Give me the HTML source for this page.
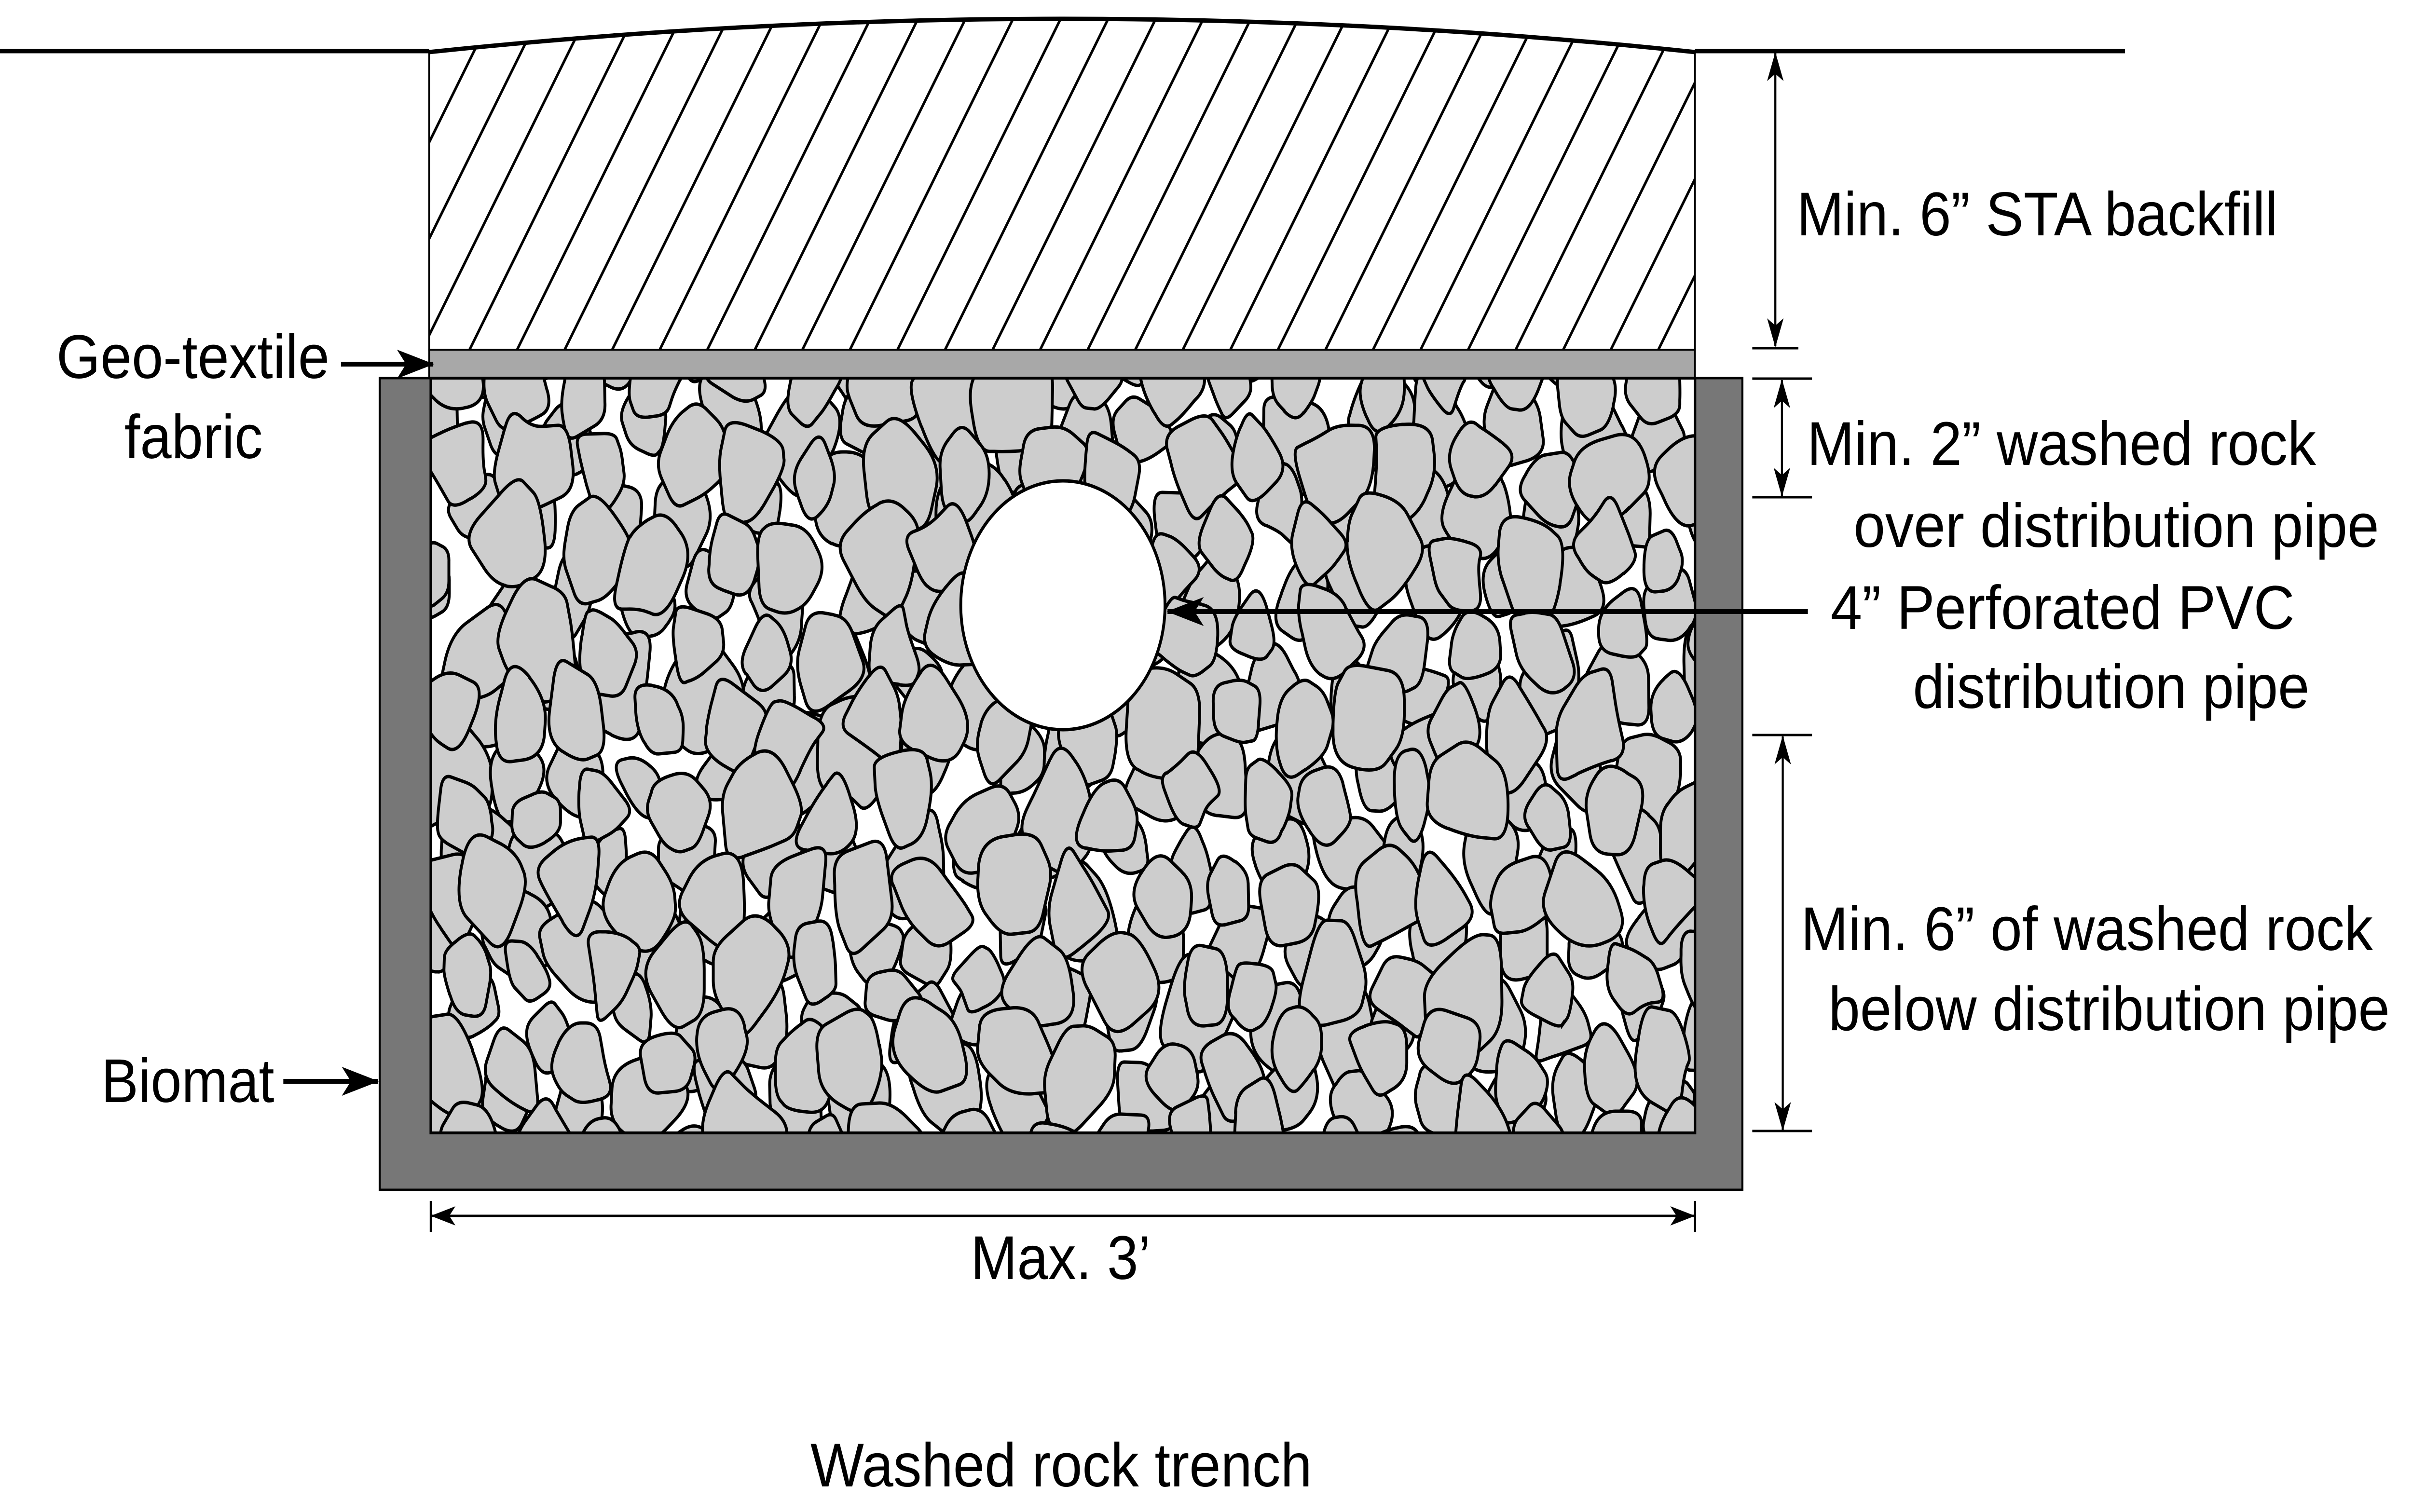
<!DOCTYPE html>
<html><head><meta charset="utf-8"><style>
html,body{margin:0;padding:0;background:#fff;overflow:hidden;width:100%;height:100%;}
svg{display:block;overflow:hidden;width:100vw;height:100vh;}
text{font-family:"Liberation Sans",Arial,sans-serif;font-size:128px;fill:#000;}
</style></head><body>
<svg id="s" viewBox="0 0 5857 3135" preserveAspectRatio="none" xmlns="http://www.w3.org/2000/svg">
<defs>
<pattern id="hatch" patternUnits="userSpaceOnUse" width="100" height="100" patternTransform="rotate(30)">
<rect width="100" height="100" fill="#fff"/>
<line x1="50" y1="0" x2="50" y2="100" stroke="#000" stroke-width="6"/>
</pattern>
<clipPath id="rc"><rect x="1046" y="784" width="3070" height="1565"/></clipPath>
<marker id="ah" markerWidth="90" markerHeight="60" refX="88" refY="30" orient="auto-start-reverse" markerUnits="userSpaceOnUse" viewBox="0 0 90 60"><path d="M0,0 L90,30 L0,60 L22,30 z" fill="#000"/></marker>
<marker id="as" markerWidth="60" markerHeight="40" refX="58" refY="20" orient="auto-start-reverse" markerUnits="userSpaceOnUse" viewBox="0 0 60 40"><path d="M0,0 L60,20 L0,40 L15,20 z" fill="#000"/></marker>
</defs>
<line x1="0" y1="106" x2="1042" y2="106" stroke="#000" stroke-width="9"/>
<line x1="4116" y1="106" x2="5160" y2="106" stroke="#000" stroke-width="9"/>
<path d="M1042,108 Q2580,-30 4116,108 L4116,725 L1042,725 Z" fill="url(#hatch)" stroke="#000" stroke-width="4"/>
<path d="M1042,108 Q2580,-30 4116,108" fill="none" stroke="#000" stroke-width="9"/>
<rect x="1042" y="725" width="3074" height="59" fill="#a8a8a8" stroke="#000" stroke-width="4"/>
<path d="M922,784 L1046,784 L1046,2349 L4116,2349 L4116,784 L4231,784 L4231,2467 L922,2467 Z" fill="#777" stroke="#000" stroke-width="5"/>
<rect x="1046" y="784" width="3070" height="1565" fill="#fff"/>
<g id="rocks" clip-path="url(#rc)"></g>
<rect x="1046" y="784" width="3070" height="1565" fill="none" stroke="#000" stroke-width="6"/>
<ellipse cx="2581" cy="1255" rx="248" ry="258" fill="#fff" stroke="#000" stroke-width="7"/>
<line x1="4390" y1="1268" x2="2835" y2="1268" stroke="#000" stroke-width="10" marker-end="url(#ah)"/>
<line x1="828" y1="755" x2="1052" y2="755" stroke="#000" stroke-width="10" marker-end="url(#ah)"/>
<line x1="688" y1="2242" x2="918" y2="2242" stroke="#000" stroke-width="10" marker-end="url(#ah)"/>
<g stroke="#000" stroke-width="5">
<line x1="4311" y1="110" x2="4311" y2="718" marker-start="url(#as)" marker-end="url(#as)"/>
<line x1="4255" y1="722" x2="4367" y2="722"/>
<line x1="4327" y1="788" x2="4327" y2="1028" marker-start="url(#as)" marker-end="url(#as)"/>
<line x1="4255" y1="785" x2="4400" y2="785"/><line x1="4255" y1="1031" x2="4400" y2="1031"/>
<line x1="4329" y1="1527" x2="4329" y2="2343" marker-start="url(#as)" marker-end="url(#as)"/>
<line x1="4255" y1="1524" x2="4400" y2="1524"/><line x1="4255" y1="2345" x2="4400" y2="2345"/>
<line x1="1048" y1="2521" x2="4114" y2="2521" marker-start="url(#as)" marker-end="url(#as)"/>
<line x1="1046" y1="2490" x2="1046" y2="2555"/><line x1="4116" y1="2490" x2="4116" y2="2555"/>
</g>
<text x="4363" y="488" textLength="1168" lengthAdjust="spacingAndGlyphs">Min. 6” STA backfill</text>
<text x="137" y="784" textLength="663" lengthAdjust="spacingAndGlyphs">Geo-textile</text>
<text x="302" y="950" textLength="336" lengthAdjust="spacingAndGlyphs">fabric</text>
<text x="4388" y="964" textLength="1236" lengthAdjust="spacingAndGlyphs">Min. 2” washed rock</text>
<text x="4501" y="1134" textLength="1276" lengthAdjust="spacingAndGlyphs">over distribution pipe</text>
<text x="4445" y="1304" textLength="1127" lengthAdjust="spacingAndGlyphs">4” Perforated PVC</text>
<text x="4645" y="1468" textLength="963" lengthAdjust="spacingAndGlyphs">distribution pipe</text>
<text x="4373" y="1970" textLength="1389" lengthAdjust="spacingAndGlyphs">Min. 6” of washed rock</text>
<text x="4440" y="2136" textLength="1363" lengthAdjust="spacingAndGlyphs">below distribution pipe</text>
<text x="246" y="2285" textLength="420" lengthAdjust="spacingAndGlyphs">Biomat</text>
<text x="2357" y="2652" textLength="437" lengthAdjust="spacingAndGlyphs">Max. 3’</text>
<text x="1968" y="3082" textLength="1218" lengthAdjust="spacingAndGlyphs">Washed rock trench</text>
</svg>
<script>
(function(){
var seed=12345;function r(){seed=(seed*16807)%2147483647;return (seed-1)/2147483646;}
var g=document.getElementById('rocks'),out='';
for(var L=0;L<2;L++){
for(var y=720+L*85;y<2450;y+=175){
 for(var x=980+L*88+(Math.floor(y/175)%2)*70;x<4200;x+=175){
  var cx=x+(r()-0.5)*70,cy=y+(r()-0.5)*70;
  var n=5+Math.floor(r()*3),rad=70+r()*45,pts=[];
  var a0=r()*6.28;
  for(var i=0;i<n;i++){var a=a0+i*6.283/n+(r()-0.5)*0.6;var rr=rad*(0.6+r()*0.6);
   pts.push([cx+Math.cos(a)*rr*0.95,cy+Math.sin(a)*rr*1.2]);}
  var d='';
  for(var i=0;i<n;i++){var p=pts[i],q=pts[(i+1)%n];
   var t=0.25+r()*0.25;
   var m1=[p[0]+(q[0]-p[0])*t,p[1]+(q[1]-p[1])*t],m2=[p[0]+(q[0]-p[0])*(1-t),p[1]+(q[1]-p[1])*(1-t)];
   if(i==0){var pm=pts[n-1];d+='M'+(pm[0]+(p[0]-pm[0])*0.7).toFixed(0)+','+(pm[1]+(p[1]-pm[1])*0.7).toFixed(0);}
   d+=' Q'+p[0].toFixed(0)+','+p[1].toFixed(0)+' '+m1[0].toFixed(0)+','+m1[1].toFixed(0)+' L'+m2[0].toFixed(0)+','+m2[1].toFixed(0);}
  out+='<path d="'+d+'Z" fill="#cdcdcd" stroke="#000" stroke-width="7"/>';
 }}}
g.innerHTML=out;
})();
</script>
</body></html>
